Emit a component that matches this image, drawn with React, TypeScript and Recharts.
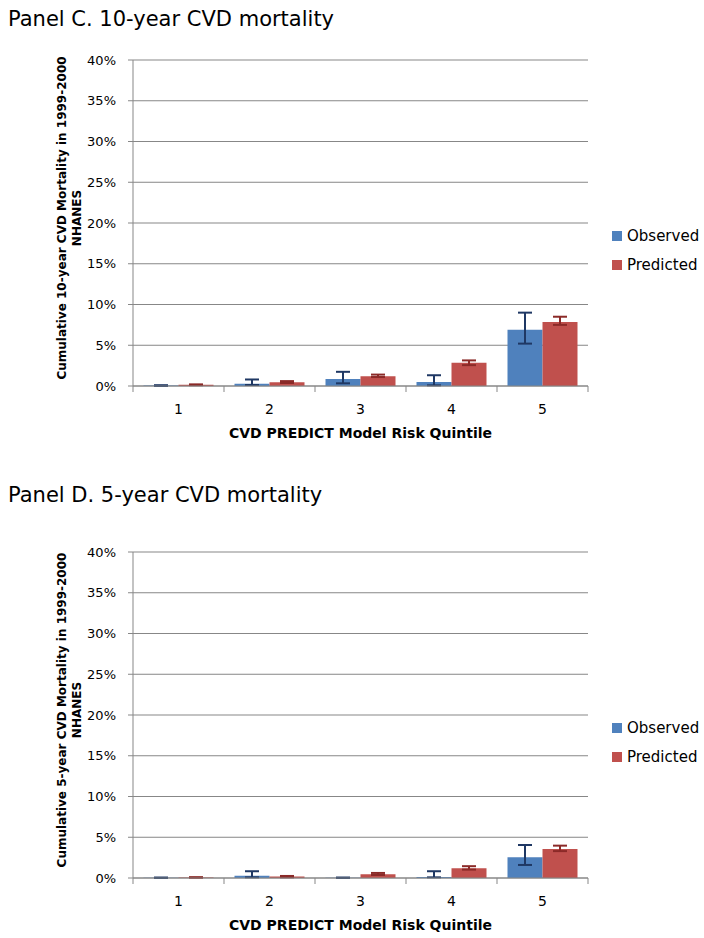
import { BarChart, Bar, XAxis, YAxis, CartesianGrid, ErrorBar, Legend } from 'recharts';

// Risk quintiles and cumulative CVD mortality (%)
const quintiles = ['1', '2', '3', '4', '5'];

// Panel C: 10-year
const obs10 = [0.05, 0.29, 0.87, 0.5, 6.9];
const obs10Lo = [0.0, 0.12, 0.33, 0.08, 5.2];
const obs10Hi = [0.1, 0.8, 1.74, 1.32, 9.0];
const pred10 = [0.15, 0.45, 1.2, 2.85, 7.85];
const pred10Lo = [0.1, 0.37, 1.1, 2.56, 7.5];
const pred10Hi = [0.2, 0.6, 1.4, 3.14, 8.5];

// Panel D: 5-year
const obs5 = [0.03, 0.29, 0.03, 0.12, 2.56];
const obs5Lo = [0.0, 0.08, 0.0, 0.08, 1.6];
const obs5Hi = [0.06, 0.83, 0.06, 0.83, 4.05];
const pred5 = [0.05, 0.17, 0.45, 1.2, 3.55];
const pred5Lo = [0.03, 0.08, 0.37, 1.03, 3.3];
const pred5Hi = [0.1, 0.25, 0.62, 1.45, 3.97];

const yTicks = [0, 5, 10, 15, 20, 25, 30, 35, 40];

const BLUE = '#4F81BD';
const RED = '#C0504D';
const AXIS = '#878787';
const FONT = '"DejaVu Sans", sans-serif';

const CHART_W = 704;
const CHART_H = 470;
const Y_AXIS_W = 60;
const MARGIN = { top: 60, right: 116, bottom: 54, left: 73 };
const PLOT_W = CHART_W - MARGIN.left - MARGIN.right - Y_AXIS_W;

function buildRows(obs: number[], oLo: number[], oHi: number[], pred: number[], pLo: number[], pHi: number[]) {
  return quintiles.map((q, i) => ({
    q,
    observed: obs[i],
    obsErr: [obs[i] - oLo[i], oHi[i] - obs[i]],
    predicted: pred[i],
    predErr: [pred[i] - pLo[i], pHi[i] - pred[i]],
  }));
}

function XTick(props: any) {
  const { x, y, payload, index } = props;
  const bw = PLOT_W / quintiles.length;
  const top = y - 8;
  return (
    <g>
      <line x1={x - bw / 2} x2={x - bw / 2} y1={top} y2={top + 6} stroke={AXIS} />
      {index === quintiles.length - 1 && (
        <line x1={x + bw / 2} x2={x + bw / 2} y1={top} y2={top + 6} stroke={AXIS} />
      )}
      <text x={x} y={top + 28} textAnchor="middle" fontSize={14} fontFamily={FONT} fill="#000">
        {payload.value}
      </text>
    </g>
  );
}

function LegendBox() {
  const item = (color: string, label: string) => (
    <div style={{ display: 'flex', alignItems: 'center', height: 29 }}>
      <span style={{ width: 10, height: 10, background: color, display: 'inline-block', marginRight: 5 }} />
      <span style={{ fontFamily: FONT, fontSize: 15, color: '#000' }}>{label}</span>
    </div>
  );
  return (
    <div>
      {item(BLUE, 'Observed')}
      {item(RED, 'Predicted')}
    </div>
  );
}

function Panel({ title, years, rows, top, titleTop }: { title: string; years: string; rows: any[]; top: number; titleTop: number }) {
  return (
    <>
      <div style={{ position: 'absolute', left: 8, top: titleTop, fontFamily: FONT, fontSize: 21, lineHeight: '21px', color: '#000', whiteSpace: 'nowrap', zIndex: 1 }}>
        {title}
      </div>
      <div style={{ position: 'absolute', left: 0, top, width: CHART_W, height: CHART_H }}>
        <BarChart width={CHART_W} height={CHART_H} data={rows} margin={MARGIN} barGap={0} barCategoryGap={10.5}>
          <CartesianGrid vertical={false} stroke={AXIS} />
          <XAxis
            dataKey="q"
            stroke={AXIS}
            tickLine={false}
            height={30}
            tick={<XTick />}
            label={{ value: 'CVD PREDICT Model Risk Quintile', position: 'insideBottom', offset: -22, fontFamily: FONT, fontSize: 14, fontWeight: 'bold', fill: '#000' }}
          />
          <YAxis
            domain={[0, 40]}
            ticks={yTicks}
            interval={0}
            width={Y_AXIS_W}
            stroke={AXIS}
            tickSize={5}
            tickMargin={12}
            tickFormatter={(v: number) => `${v}%`}
            tick={{ fontFamily: FONT, fontSize: 13, fill: '#000' }}
            label={{
              content: () => (
                <text transform="translate(66, 218) rotate(-90)" textAnchor="middle" fontFamily={FONT} fontSize={12} fontWeight="bold" fill="#000">
                  <tspan x={0} dy={0}>{`Cumulative ${years}-year CVD Mortality  in 1999-2000`}</tspan>
                  <tspan x={0} dy={15}>NHANES</tspan>
                </text>
              ),
            }}
          />
          <Legend
            layout="vertical"
            align="center"
            verticalAlign="middle"
            wrapperStyle={{ left: 612, top: 221, width: 100 }}
            content={<LegendBox />}
          />
          <Bar dataKey="observed" fill={BLUE} isAnimationActive={false}>
            <ErrorBar dataKey="obsErr" width={7} strokeWidth={2} stroke="#1F3864" direction="y" />
          </Bar>
          <Bar dataKey="predicted" fill={RED} isAnimationActive={false}>
            <ErrorBar dataKey="predErr" width={7} strokeWidth={2} stroke="#8B2A28" direction="y" />
          </Bar>
        </BarChart>
      </div>
    </>
  );
}

export default function App() {
  return (
    <div style={{ position: 'absolute', left: 0, top: 0, width: 704, height: 938, background: '#fff' }}>
      <Panel title="Panel C. 10-year CVD mortality" years="10" rows={buildRows(obs10, obs10Lo, obs10Hi, pred10, pred10Lo, pred10Hi)} top={0} titleTop={9} />
      <Panel title="Panel D. 5-year CVD mortality" years="5" rows={buildRows(obs5, obs5Lo, obs5Hi, pred5, pred5Lo, pred5Hi)} top={492} titleTop={485} />
    </div>
  );
}
